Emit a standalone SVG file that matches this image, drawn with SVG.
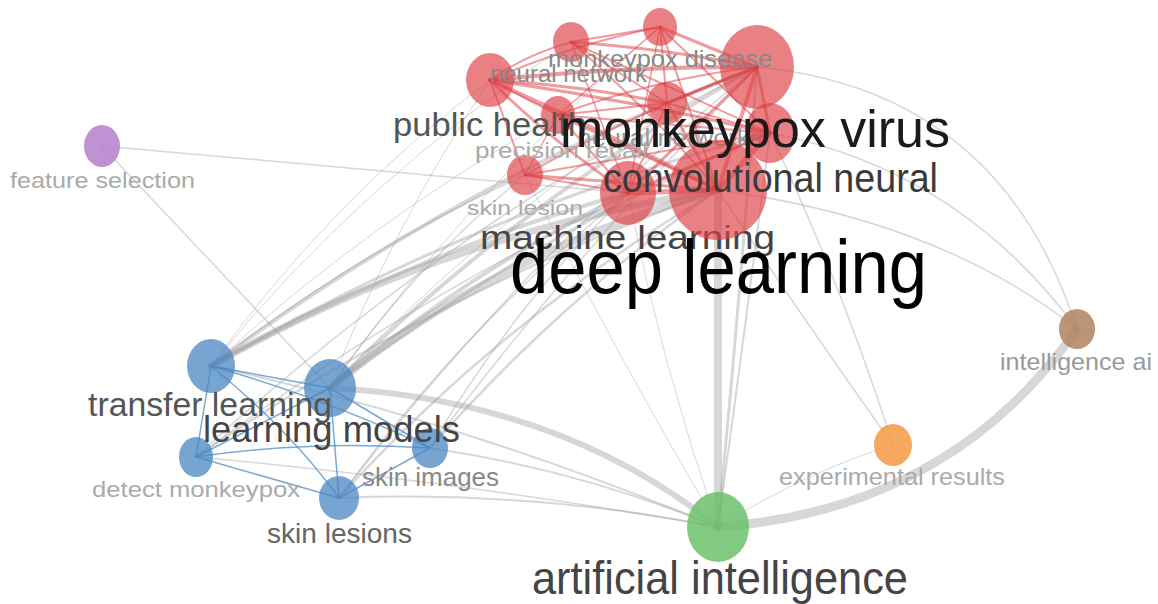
<svg xmlns="http://www.w3.org/2000/svg" width="1158" height="604" viewBox="0 0 1158 604">
<style>
  .g { fill: none; stroke: #9a9a9a; stroke-opacity: 0.4; stroke-linecap: round; }
  .r { fill: none; stroke: #e03a40; stroke-opacity: 0.5; stroke-linecap: round; }
  .b { fill: none; stroke: #4f8cc6; stroke-opacity: 0.75; stroke-width: 1.5; }
  .red { fill: #de3f45; fill-opacity: 0.66; }
  .blue { fill: #4a86c0; fill-opacity: 0.75; }
  .green { fill: #6cc06c; fill-opacity: 0.85; }
  .orange { fill: #f5a04c; fill-opacity: 0.9; }
  .brown { fill: #b0835f; fill-opacity: 0.85; }
  .purple { fill: #b57fcc; fill-opacity: 0.85; }
  text { font-family: "Liberation Sans", Arial, sans-serif; }
</style>
<rect width="1158" height="604" fill="#ffffff"/>
<g id="connectors">
  <!-- gray edges -->
  <path class="g" stroke-width="7" d="M718 190 Q440 235 211 366"/>
  <path class="g" stroke-width="8" d="M718 190 Q490 255 330 388"/>
  <path class="g" stroke-width="4" d="M757 67 Q460 180 211 366"/>
  <path class="g" stroke-width="4" d="M757 67 Q520 200 330 388"/>
  <path class="g" stroke-width="3" d="M770 133 Q480 210 211 366"/>
  <path class="g" stroke-width="3" d="M770 133 Q540 230 330 388"/>
  <path class="g" stroke-width="4" d="M628 193 Q420 250 211 366"/>
  <path class="g" stroke-width="4" d="M628 193 Q470 270 330 388"/>
  <path class="g" stroke-width="2.5" d="M718 190 Q440 290 196 457"/>
  <path class="g" stroke-width="2.5" d="M718 190 Q560 300 430 448"/>
  <path class="g" stroke-width="2.5" d="M718 190 Q500 320 339 498"/>
  <path class="g" stroke-width="1.5" d="M628 193 Q460 330 339 498"/>
  <path class="g" stroke-width="1.5" d="M628 193 Q510 310 430 448"/>
  <path class="g" stroke-width="1.5" d="M757 67 Q520 260 339 498"/>
  <path class="g" stroke-width="1.5" d="M757 67 Q570 260 430 448"/>
  <path class="g" stroke-width="1.5" d="M757 67 Q440 230 196 457"/>
  <path class="g" stroke-width="1.5" d="M770 133 Q460 260 196 457"/>
  <path class="g" stroke-width="1.5" d="M525 175 Q360 250 211 366"/>
  <path class="g" stroke-width="1.5" d="M525 175 Q410 270 330 388"/>
  <path class="g" stroke-width="1" d="M490 80 Q330 200 211 366"/>
  <path class="g" stroke-width="1" d="M490 80 Q390 230 330 388"/>
  <path class="g" stroke-width="1" d="M667 103 Q480 230 330 388"/>
  <path class="g" stroke-width="1" d="M558 115 Q370 220 211 366"/>
  <path class="g" stroke-width="1" d="M571 42 Q360 180 211 366"/>
  <path class="g" stroke-width="1" d="M660 27 Q470 190 330 388"/>
  <path class="g" stroke-width="8" stroke-opacity="0.5" d="M718 190 L718 527"/>
  <path class="g" stroke-width="3" d="M757 67 Q740 300 718 527"/>
  <path class="g" stroke-width="2" d="M770 133 Q745 330 718 527"/>
  <path class="g" stroke-width="1" d="M628 193 Q660 360 718 527"/>
  <path class="g" stroke-width="1" d="M525 175 Q620 360 718 527"/>
  <path class="g" stroke-width="6" d="M330 388 Q560 400 718 527"/>
  <path class="g" stroke-width="2" d="M211 366 Q460 420 718 527"/>
  <path class="g" stroke-width="2" d="M339 498 Q530 490 718 527"/>
  <path class="g" stroke-width="1.5" d="M196 457 Q450 480 718 527"/>
  <path class="g" stroke-width="2" d="M430 448 Q580 470 718 527"/>
  <path class="g" stroke-width="9" d="M718 527 Q950 510 1077 329"/>
  <path class="g" stroke-width="1" d="M718 527 Q810 470 893 445"/>
  <path class="g" stroke-width="1.5" d="M893 445 Q790 300 718 190"/>
  <path class="g" stroke-width="1.5" d="M893 445 Q840 280 770 133"/>
  <path class="g" stroke-width="1.5" d="M1077 329 Q1000 90 757 67"/>
  <path class="g" stroke-width="1.5" d="M1077 329 Q960 170 770 133"/>
  <path class="g" stroke-width="1.5" d="M1077 329 Q940 220 718 190"/>
  <path class="g" stroke-width="1.5" d="M102 146 L628 193"/>
  <path class="g" stroke-width="1.5" d="M102 146 L330 388"/>
  <!-- red edges -->
  <path class="r" stroke-width="4" d="M490 80 Q620 66 757 67"/>
  <path class="r" stroke-width="2" d="M490 80 Q525 55 571 42"/>
  <path class="r" stroke-width="2" d="M490 80 Q570 45 660 27"/>
  <path class="r" stroke-width="3" d="M490 80 Q580 85 667 103"/>
  <path class="r" stroke-width="2" d="M490 80 L558 115"/>
  <path class="r" stroke-width="2" d="M490 80 L525 175"/>
  <path class="r" stroke-width="3" d="M490 80 Q630 100 770 133"/>
  <path class="r" stroke-width="4" d="M490 80 Q600 130 718 190"/>
  <path class="r" stroke-width="3" d="M490 80 Q550 140 628 193"/>
  <path class="r" stroke-width="2" d="M571 42 L660 27"/>
  <path class="r" stroke-width="3" d="M571 42 Q660 48 757 67"/>
  <path class="r" stroke-width="2" d="M571 42 L667 103"/>
  <path class="r" stroke-width="2" d="M571 42 Q650 110 718 190"/>
  <path class="r" stroke-width="2" d="M571 42 L770 133"/>
  <path class="r" stroke-width="1.5" d="M571 42 L628 193"/>
  <path class="r" stroke-width="3" d="M660 27 L757 67"/>
  <path class="r" stroke-width="2" d="M660 27 L667 103"/>
  <path class="r" stroke-width="2" d="M660 27 L718 190"/>
  <path class="r" stroke-width="2" d="M660 27 L770 133"/>
  <path class="r" stroke-width="1.5" d="M660 27 L558 115"/>
  <path class="r" stroke-width="1.5" d="M660 27 L628 193"/>
  <path class="r" stroke-width="3" d="M757 67 L667 103"/>
  <path class="r" stroke-width="3" d="M757 67 L770 133"/>
  <path class="r" stroke-width="4" d="M757 67 L718 190"/>
  <path class="r" stroke-width="3" d="M757 67 L628 193"/>
  <path class="r" stroke-width="2" d="M757 67 Q650 80 558 115"/>
  <path class="r" stroke-width="2" d="M757 67 Q640 110 525 175"/>
  <path class="r" stroke-width="3" d="M667 103 L718 190"/>
  <path class="r" stroke-width="2" d="M667 103 L770 133"/>
  <path class="r" stroke-width="2" d="M667 103 L628 193"/>
  <path class="r" stroke-width="2" d="M667 103 L558 115"/>
  <path class="r" stroke-width="3" d="M558 115 L718 190"/>
  <path class="r" stroke-width="2" d="M558 115 L770 133"/>
  <path class="r" stroke-width="2" d="M558 115 L628 193"/>
  <path class="r" stroke-width="1.5" d="M558 115 L525 175"/>
  <path class="r" stroke-width="3" d="M525 175 L718 190"/>
  <path class="r" stroke-width="2" d="M525 175 L770 133"/>
  <path class="r" stroke-width="2" d="M525 175 L628 193"/>
  <path class="r" stroke-width="5" d="M628 193 L718 190"/>
  <path class="r" stroke-width="3" d="M628 193 L770 133"/>
  <path class="r" stroke-width="5" d="M770 133 L718 190"/>
  <!-- blue edges -->
  <path class="b" d="M211 366 L330 388"/>
  <path class="b" d="M211 366 L196 457"/>
  <path class="b" d="M211 366 Q290 430 339 498"/>
  <path class="b" d="M211 366 Q330 400 430 448"/>
  <path class="b" d="M330 388 L196 457"/>
  <path class="b" d="M330 388 L339 498"/>
  <path class="b" d="M330 388 L430 448"/>
  <path class="b" d="M196 457 Q310 440 430 448"/>
  <path class="b" d="M196 457 L339 498"/>
  <path class="b" d="M339 498 L430 448"/>
</g>
<g id="node-feature-selection">
  <ellipse class="purple" cx="102" cy="146" rx="18" ry="21"/>
  <text x="10" y="188" font-size="22" fill="#aaaaaa" textLength="185" lengthAdjust="spacingAndGlyphs">feature selection</text>
</g>
<g id="node-intelligence-ai">
  <ellipse class="brown" cx="1077" cy="329" rx="18" ry="20"/>
  <text x="1000" y="370" font-size="24" fill="#999999" textLength="152" lengthAdjust="spacingAndGlyphs">intelligence ai</text>
</g>
<g id="node-experimental-results">
  <ellipse class="orange" cx="893" cy="445" rx="19" ry="21"/>
  <text x="779" y="485" font-size="24" fill="#aaaaaa" textLength="226" lengthAdjust="spacingAndGlyphs">experimental results</text>
</g>
<g id="node-artificial-intelligence">
  <ellipse class="green" cx="718" cy="527" rx="31" ry="35"/>
  <text x="532" y="594" font-size="46" fill="#444444" textLength="376" lengthAdjust="spacingAndGlyphs">artificial intelligence</text>
</g>
<g id="node-detect-monkeypox">
  <ellipse class="blue" cx="196" cy="457" rx="17" ry="20"/>
  <text x="92" y="497" font-size="22" fill="#aaaaaa" textLength="208" lengthAdjust="spacingAndGlyphs">detect monkeypox</text>
</g>
<g id="node-skin-lesions">
  <ellipse class="blue" cx="339" cy="498" rx="20" ry="22"/>
  <text x="267" y="543" font-size="27" fill="#666666" textLength="145" lengthAdjust="spacingAndGlyphs">skin lesions</text>
</g>
<g id="node-skin-images">
  <ellipse class="blue" cx="430" cy="448" rx="18" ry="20"/>
  <text x="362" y="486" font-size="25" fill="#888888" textLength="137" lengthAdjust="spacingAndGlyphs">skin images</text>
</g>
<g id="node-learning-models">
  <ellipse class="blue" cx="330" cy="388" rx="26" ry="29"/>
  <text x="203" y="442" font-size="37" fill="#444444" textLength="257" lengthAdjust="spacingAndGlyphs">learning models</text>
</g>
<g id="node-transfer-learning">
  <ellipse class="blue" cx="211" cy="366" rx="24" ry="27"/>
  <text x="88" y="416" font-size="33" fill="#555555" textLength="244" lengthAdjust="spacingAndGlyphs">transfer learning</text>
</g>
<g id="node-machine-learning">
  <ellipse class="red" cx="628" cy="193" rx="28" ry="32"/>
  <text x="480" y="249" font-size="34" fill="#444444" textLength="295" lengthAdjust="spacingAndGlyphs">machine learning</text>
</g>
<g id="node-skin-lesion">
  <ellipse class="red" cx="525" cy="175" rx="18" ry="20"/>
  <text x="467" y="215" font-size="21" fill="#aaaaaa" textLength="116" lengthAdjust="spacingAndGlyphs">skin lesion</text>
</g>
<g id="node-precision-recall">
  <ellipse class="red" cx="558" cy="115" rx="17" ry="19"/>
  <text x="475" y="158" font-size="22" fill="#aaaaaa" textLength="173" lengthAdjust="spacingAndGlyphs">precision recall</text>
</g>
<g id="node-neural-networks">
  <ellipse class="red" cx="667" cy="103" rx="20" ry="21"/>
  <text x="577" y="146" font-size="23" fill="#999999" textLength="186" lengthAdjust="spacingAndGlyphs">neural networks</text>
</g>
<g id="node-public-health">
  <ellipse class="red" cx="490" cy="80" rx="24" ry="27"/>
  <text x="393" y="136" font-size="33" fill="#555555" textLength="194" lengthAdjust="spacingAndGlyphs">public health</text>
</g>
<g id="node-neural-network">
  <ellipse class="red" cx="571" cy="42" rx="18" ry="20"/>
  <text x="490" y="82" font-size="23" fill="#888888" textLength="157" lengthAdjust="spacingAndGlyphs">neural network</text>
</g>
<g id="node-deep-learning">
  <ellipse class="red" cx="718" cy="190" rx="49" ry="50"/>
  <text x="510" y="293" font-size="76" fill="#000000" textLength="417" lengthAdjust="spacingAndGlyphs">deep learning</text>
</g>
<g id="node-convolutional-neural">
  <ellipse class="red" cx="770" cy="133" rx="25" ry="30"/>
  <text x="603" y="192" font-size="40" fill="#3a3a3a" textLength="335" lengthAdjust="spacingAndGlyphs">convolutional neural</text>
</g>
<g id="node-monkeypox-virus">
  <ellipse class="red" cx="757" cy="67" rx="37" ry="42"/>
  <text x="560" y="147" font-size="51" fill="#1a1a1a" textLength="390" lengthAdjust="spacingAndGlyphs">monkeypox virus</text>
</g>
<g id="node-monkeypox-disease">
  <ellipse class="red" cx="660" cy="27" rx="17" ry="19"/>
  <text x="548" y="67" font-size="24" fill="#888888" textLength="224" lengthAdjust="spacingAndGlyphs">monkeypox disease</text>
</g>
</svg>
